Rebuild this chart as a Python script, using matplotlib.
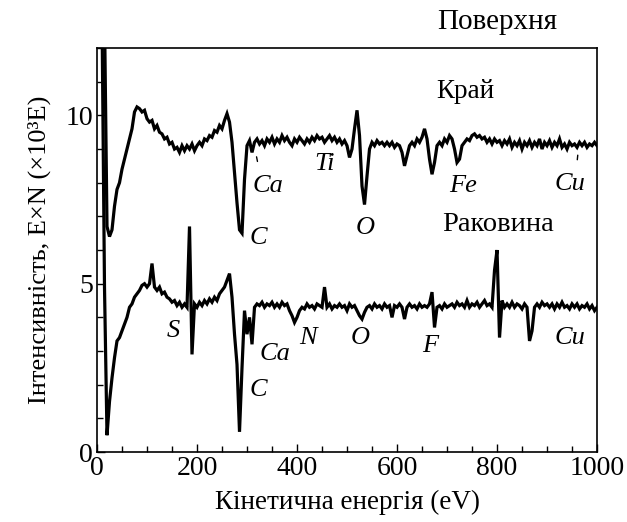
import numpy as np
import matplotlib
matplotlib.use("Agg")
import matplotlib.pyplot as plt
from matplotlib.ticker import MultipleLocator

plt.rcParams['font.family'] = ['Liberation Serif', 'DejaVu Serif']

# Kinetic energy grid (eV)
energy = np.arange(10, 1001, 5)

# "Край" spectrum (upper)
edge = [
    13.0, 13.0, 6.7, 6.4, 6.6, 7.3, 7.8, 8.0, 8.4, 8.7,
    9.0, 9.3, 9.6, 10.1, 10.25, 10.2, 10.1, 10.15, 9.9, 9.8,
    9.85, 9.6, 9.7, 9.5, 9.45, 9.3, 9.35, 9.15, 9.2, 9.0,
    9.05, 8.9, 9.1, 8.95, 9.1, 9.0, 9.15, 8.95, 9.1, 9.2,
    9.1, 9.3, 9.25, 9.4, 9.35, 9.55, 9.5, 9.7, 9.6, 9.85,
    10.05, 9.8, 9.2, 8.3, 7.4, 6.6, 6.5, 8.1, 9.1, 9.25,
    8.9, 9.2, 9.3, 9.15, 9.25, 9.1, 9.3, 9.2, 9.35, 9.15,
    9.3, 9.2, 9.4, 9.25, 9.35, 9.2, 9.1, 9.3, 9.2, 9.35,
    9.25, 9.15, 9.3, 9.2, 9.35, 9.25, 9.4, 9.3, 9.35, 9.2,
    9.3, 9.4, 9.25, 9.35, 9.2, 9.3, 9.15, 9.25, 9.1, 8.75,
    9.0, 9.6, 10.15, 9.4, 7.9, 7.35, 8.2, 9.0, 9.2, 9.1,
    9.25, 9.15, 9.2, 9.1, 9.2, 9.1, 9.2, 9.05, 9.15, 9.1,
    8.9, 8.5, 8.8, 9.1, 9.2, 9.1, 9.3, 9.2, 9.35, 9.6,
    9.3, 8.7, 8.25, 8.6, 9.1, 9.2, 9.1, 9.3, 9.2, 9.4,
    9.3, 9.0, 8.6, 8.7, 9.1, 9.2, 9.3, 9.25, 9.4, 9.45,
    9.35, 9.4, 9.3, 9.35, 9.2, 9.3, 9.15, 9.3, 9.2, 9.25,
    9.1, 9.25, 9.15, 9.3, 9.05, 9.2, 9.1, 9.25, 9.0, 9.2,
    9.1, 9.25, 9.05, 9.2, 9.1, 9.3, 9.0, 9.2, 9.1, 9.25,
    9.05, 9.2, 9.1, 9.3, 9.05, 9.15, 9.0, 9.2, 9.1, 9.15,
    9.05, 9.2, 9.1, 9.2, 9.05, 9.15, 9.1, 9.2, 9.1,
]

# "Раковина" spectrum (lower)
shell = [
    13.0, 4.9, 0.5, 1.5, 2.2, 2.8, 3.3, 3.4, 3.6, 3.8,
    4.0, 4.3, 4.4, 4.6, 4.7, 4.8, 4.95, 5.0, 4.9, 5.0,
    5.6, 4.9, 4.8, 4.9, 4.7, 4.75, 4.6, 4.55, 4.45, 4.5,
    4.35, 4.45, 4.3, 4.4, 4.3, 6.7, 2.9, 4.4, 4.3, 4.45,
    4.35, 4.5, 4.4, 4.55, 4.45, 4.6, 4.5, 4.7, 4.8, 4.9,
    5.1, 5.3, 4.6, 3.5, 2.6, 0.6, 2.5, 4.2, 3.5, 4.0,
    3.2, 4.3, 4.4, 4.35, 4.45, 4.3, 4.4, 4.35, 4.45, 4.3,
    4.4, 4.3, 4.45, 4.35, 4.4, 4.2, 4.05, 3.85, 4.0, 4.2,
    4.3, 4.25, 4.4, 4.3, 4.35, 4.25, 4.4, 4.35, 4.3, 4.9,
    4.3, 4.4, 4.25, 4.35, 4.3, 4.4, 4.3, 4.35, 4.2, 4.4,
    4.3, 4.35, 4.2, 4.05, 3.95, 4.15, 4.3, 4.35, 4.25, 4.4,
    4.3, 4.35, 4.25, 4.4, 4.3, 4.35, 4.0, 4.35, 4.3, 4.4,
    4.3, 3.95, 4.3, 4.4, 4.3, 4.35, 4.25, 4.4, 4.3, 4.35,
    4.3, 4.4, 4.75, 3.7, 4.3, 4.35, 4.25, 4.4, 4.3, 4.35,
    4.4, 4.3, 4.45, 4.35, 4.4, 4.3, 4.5, 4.3, 4.4, 4.35,
    4.45, 4.3, 4.4, 4.5, 4.35, 4.4, 4.3, 5.4, 6.0, 3.4,
    4.5, 4.3, 4.4, 4.3, 4.45, 4.3, 4.4, 4.35, 4.25, 4.4,
    4.3, 3.3, 3.6, 4.3, 4.4, 4.3, 4.45, 4.35, 4.4, 4.3,
    4.4, 4.25, 4.4, 4.3, 4.45, 4.3, 4.35, 4.25, 4.4, 4.3,
    4.4, 4.25, 4.35, 4.3, 4.4, 4.25, 4.35, 4.2, 4.3,
]

# Element labels: (text, energy, intensity)
edge_labels = [("Ca", 342, 7.9), ("Ti", 456, 8.55), ("C", 322, 6.35),
               ("O", 536, 6.65), ("Fe", 732, 7.9), ("Cu", 946, 7.95)]
shell_labels = [("S", 152, 3.6), ("Ca", 356, 2.9), ("N", 422, 3.4),
                ("O", 526, 3.4), ("F", 666, 3.15), ("C", 322, 1.85),
                ("Cu", 946, 3.4)]

fig = plt.figure(figsize=(6.27, 5.22), dpi=100)
ax = fig.add_axes([0.1547, 0.134, 0.7975, 0.774])

ax.plot(energy, edge, color='black', lw=2.3, solid_joinstyle='miter')
ax.plot(energy, shell, color='black', lw=2.3, solid_joinstyle='miter')

ax.set_xlim(0, 1000)
ax.set_ylim(0, 12)
ax.xaxis.set_major_locator(MultipleLocator(200))
ax.xaxis.set_minor_locator(MultipleLocator(50))
ax.yaxis.set_major_locator(MultipleLocator(5))
ax.yaxis.set_minor_locator(MultipleLocator(1))
ax.tick_params(which='both', direction='in', top=False, right=False,
               labelsize=20, width=1.0)
ax.tick_params(which='major', length=6, pad=3)
ax.tick_params(which='minor', length=4)
for s in ax.spines.values():
    s.set_linewidth(1.2)

ax.set_xlabel("Кінетична енергія (eV)", fontsize=19.5, labelpad=6)
ax.set_ylabel("Інтенсивність, E×N (×10³E)", fontsize=19, labelpad=10)

for txt, x, y in edge_labels + shell_labels:
    ax.text(x, y, txt, fontsize=19, style='italic', ha='center', va='center')

# small marker strokes near Ca and Cu (upper spectrum)
ax.annotate("", xy=(322, 8.55), xytext=(318, 8.85),
            arrowprops=dict(arrowstyle='-', lw=1.0, color='black'))
ax.annotate("", xy=(960, 8.6), xytext=(962, 8.9),
            arrowprops=dict(arrowstyle='-', lw=1.0, color='black'))

ax.text(736, 10.7, "Край", fontsize=19.5, ha='center', va='center')
ax.text(802, 6.75, "Раковина", fontsize=20.5, ha='center', va='center')
fig.text(0.793, 0.958, "Поверхня", fontsize=21, ha='center', va='center')

fig.savefig("out.png", dpi=100)
